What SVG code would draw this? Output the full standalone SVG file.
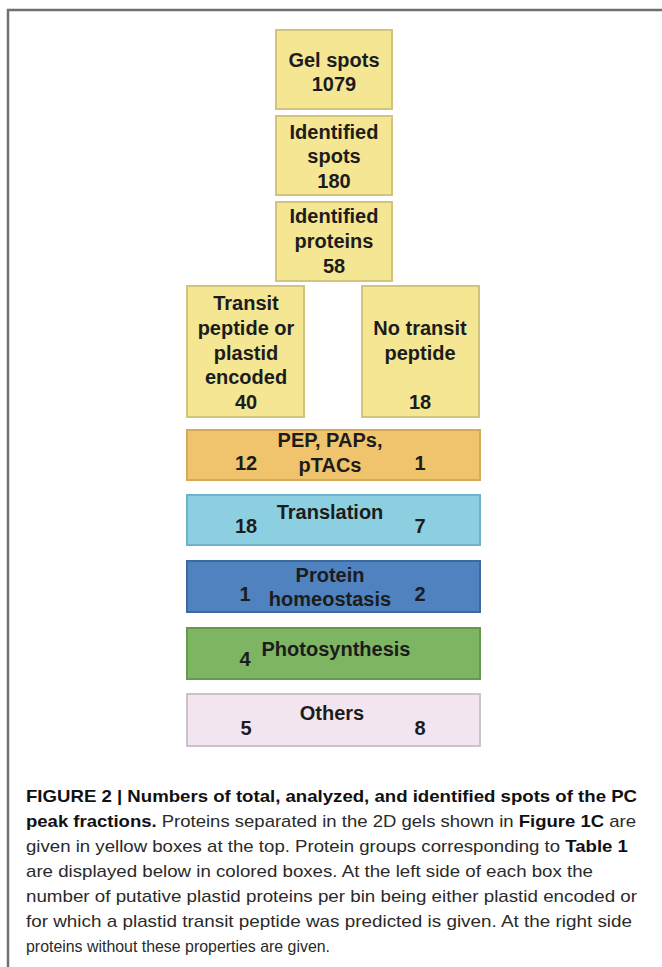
<svg xmlns="http://www.w3.org/2000/svg" width="662" height="967" viewBox="0 0 662 967">
<style>
  .t { font-family: "Liberation Sans", Arial, sans-serif; font-weight: bold; font-size: 20px; fill: #1c1c1c; text-anchor: middle; }
  .yb { fill: #f4e693; stroke: #d3c47c; stroke-width: 2; }
  .cap { font-family: "Liberation Sans", Arial, sans-serif; font-size: 17px; fill: #2a2a2a; }
  .b { font-weight: bold; fill: #111; }
</style>
<rect width="662" height="967" fill="#ffffff"/>
<path d="M8,967 V10 H662" fill="none" stroke="#707070" stroke-width="2.5"/>

<g id="gel-spots">
  <rect class="yb" x="276" y="30" width="116" height="79"/>
  <text class="t" x="334" y="67">Gel spots</text>
  <text class="t" x="334" y="91">1079</text>
</g>
<g id="identified-spots">
  <rect class="yb" x="276" y="116" width="116" height="79"/>
  <text class="t" x="334" y="139">Identified</text>
  <text class="t" x="334" y="163">spots</text>
  <text class="t" x="334" y="188">180</text>
</g>
<g id="identified-proteins">
  <rect class="yb" x="276" y="202" width="116" height="79"/>
  <text class="t" x="334" y="223">Identified</text>
  <text class="t" x="334" y="248">proteins</text>
  <text class="t" x="334" y="273">58</text>
</g>
<g id="transit">
  <rect class="yb" x="187" y="286" width="117" height="131"/>
  <text class="t" x="246" y="310">Transit</text>
  <text class="t" x="246" y="335">peptide or</text>
  <text class="t" x="246" y="360">plastid</text>
  <text class="t" x="246" y="384">encoded</text>
  <text class="t" x="246" y="409">40</text>
</g>
<g id="no-transit">
  <rect class="yb" x="362" y="286" width="117" height="131"/>
  <text class="t" x="420" y="335">No transit</text>
  <text class="t" x="420" y="360">peptide</text>
  <text class="t" x="420" y="409">18</text>
</g>
<g id="pep">
  <rect x="187" y="430" width="293" height="50" fill="#f0c46d" stroke="#d6aa5c" stroke-width="2"/>
  <text class="t" x="330" y="447">PEP, PAPs,</text>
  <text class="t" x="330" y="472">pTACs</text>
  <text class="t" x="246" y="470">12</text>
  <text class="t" x="420" y="470">1</text>
</g>
<g id="translation">
  <rect x="187" y="495" width="293" height="50" fill="#8ccfe1" stroke="#6eb4c8" stroke-width="2"/>
  <text class="t" x="330" y="519">Translation</text>
  <text class="t" x="246" y="533">18</text>
  <text class="t" x="420" y="533">7</text>
</g>
<g id="protein-homeostasis">
  <rect x="187" y="561" width="293" height="51" fill="#4f82be" stroke="#3c6a9f" stroke-width="2"/>
  <text class="t" x="330" y="582">Protein</text>
  <text class="t" x="330" y="606">homeostasis</text>
  <text class="t" x="245" y="601">1</text>
  <text class="t" x="420" y="601">2</text>
</g>
<g id="photosynthesis">
  <rect x="187" y="628" width="293" height="51" fill="#7eb562" stroke="#659a4d" stroke-width="2"/>
  <text class="t" x="336" y="656">Photosynthesis</text>
  <text class="t" x="245" y="666">4</text>
</g>
<g id="others">
  <rect x="187" y="694" width="293" height="52" fill="#f3e5ef" stroke="#cbc3c9" stroke-width="2"/>
  <text class="t" x="332" y="720">Others</text>
  <text class="t" x="246" y="735">5</text>
  <text class="t" x="420" y="735">8</text>
</g>
<g id="connectors"></g>

<g id="caption">
  <text class="cap" x="26" y="802" textLength="611" lengthAdjust="spacingAndGlyphs"><tspan class="b">FIGURE 2 | Numbers of total, analyzed, and identified spots of the PC</tspan></text>
  <text class="cap" x="26" y="827" textLength="610" lengthAdjust="spacingAndGlyphs"><tspan class="b">peak fractions.</tspan> Proteins separated in the 2D gels shown in <tspan class="b">Figure 1C</tspan> are</text>
  <text class="cap" x="26" y="852" textLength="602" lengthAdjust="spacingAndGlyphs">given in yellow boxes at the top. Protein groups corresponding to <tspan class="b">Table 1</tspan></text>
  <text class="cap" x="26" y="877" textLength="567" lengthAdjust="spacingAndGlyphs">are displayed below in colored boxes. At the left side of each box the</text>
  <text class="cap" x="26" y="902" textLength="611" lengthAdjust="spacingAndGlyphs">number of putative plastid proteins per bin being either plastid encoded or</text>
  <text class="cap" x="26" y="927" textLength="606" lengthAdjust="spacingAndGlyphs">for which a plastid transit peptide was predicted is given. At the right side</text>
  <text class="cap" x="26" y="952" textLength="304" lengthAdjust="spacingAndGlyphs">proteins without these properties are given.</text>
</g>
</svg>
